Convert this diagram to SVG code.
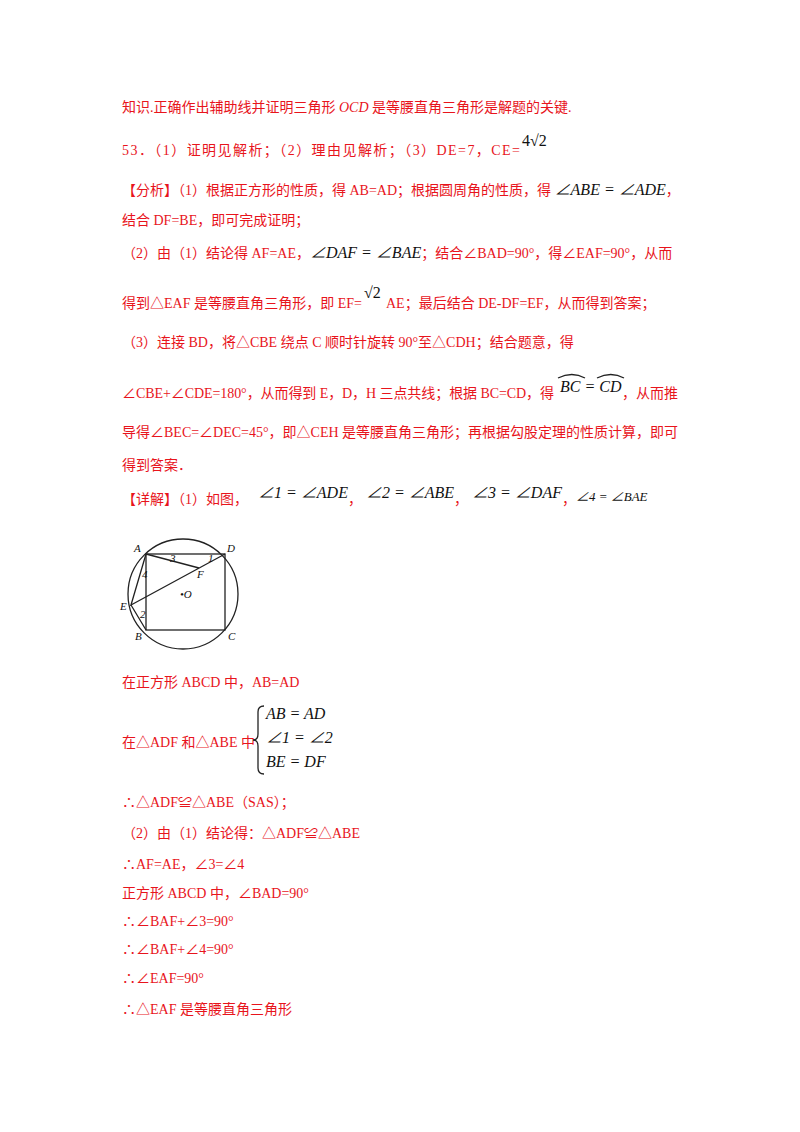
<svg xmlns="http://www.w3.org/2000/svg" width="800" height="1132" viewBox="0 0 800 1132">
<style>
text{font-family:"Liberation Serif","Noto Sans CJK SC",serif;font-size:14px;fill:#e8141c}
.m{fill:#111;font-style:italic;font-size:16px}
.n{fill:#111;font-size:16px}
.k{fill:#111;font-size:11px;font-style:italic}
.g{stroke:#222;stroke-width:1.3;fill:none}
</style>
<rect width="800" height="1132" fill="#fff"/>
<text x="122" y="112">知识.正确作出辅助线并证明三角形 <tspan font-style="italic">OCD</tspan> 是等腰直角三角形是解题的关键.</text>
<text x="122" y="155" textLength="398" lengthAdjust="spacing">53．（1）证明见解析；（2）理由见解析；（3）DE=7，CE=</text>
<text x="522" y="146" class="n">4√2</text>
<text x="122" y="195">【分析】（1）根据正方形的性质，得 AB=AD；根据圆周角的性质，得 <tspan class="m">∠ABE = ∠ADE</tspan>，</text>
<text x="122" y="225">结合 DF=BE，即可完成证明；</text>
<text x="122" y="258">（2）由（1）结论得 AF=AE，<tspan class="m">∠DAF = ∠BAE</tspan>；结合∠BAD=90°，得∠EAF=90°，从而</text>
<text x="122" y="308" textLength="240" lengthAdjust="spacing">得到△EAF 是等腰直角三角形，即 EF=</text>
<text x="364" y="298" class="n">√2</text>
<text x="386" y="308">AE；最后结合 DE-DF=EF，从而得到答案；</text>
<text x="122" y="347">（3）连接 BD，将△CBE 绕点 C 顺时针旋转 90°至△CDH；结合题意，得</text>
<text x="122" y="398" textLength="432" lengthAdjust="spacing">∠CBE+∠CDE=180°，从而得到 E，D，H 三点共线；根据 BC=CD，得</text>
<text x="560" y="392" class="m">BC = CD</text>
<text x="622" y="398">，从而推</text>
<path d="M558 378 Q572 371 585 378 M597 378 Q611 371 624 378" class="g" stroke-width="1"/>
<text x="122" y="437">导得∠BEC=∠DEC=45°，即△CEH 是等腰直角三角形；再根据勾股定理的性质计算，即可</text>
<text x="122" y="470">得到答案．</text>
<text x="122" y="504">【详解】（1）如图，<tspan class="m" dx="10" dy="-6">∠1 = ∠ADE</tspan><tspan dy="6">，</tspan><tspan class="m" dx="4" dy="-6">∠2 = ∠ABE</tspan><tspan dy="6">，</tspan><tspan class="m" dx="4" dy="-6">∠3 = ∠DAF</tspan><tspan dy="6">，</tspan><tspan class="m" style="font-size:13px" dy="-3">∠4 = ∠BAE</tspan></text>
<g id="figure">
<circle cx="183" cy="594" r="55" class="g"/>
<rect x="146" y="554" width="79" height="76" class="g"/>
<path d="M146 554 L199 568 M225 554 L131 605 L146 554 M131 605 L146 630" class="g"/>
<text class="k" x="134" y="552">A</text>
<text class="k" x="227" y="552">D</text>
<text class="k" x="120" y="610">E</text>
<text class="k" x="135" y="640">B</text>
<text class="k" x="228" y="640">C</text>
<text class="k" x="197" y="578">F</text>
<text class="k" x="180" y="598">•O</text>
<text class="k" x="142" y="578" font-size="8">4</text>
<text class="k" x="140" y="618" font-size="8">2</text>
<text class="k" x="170" y="562" font-size="8">3</text>
<text class="k" x="208" y="562" font-size="8">1</text>
</g>
<text x="122" y="687">在正方形 ABCD 中，AB=AD</text>
<text x="122" y="747">在△ADF 和△ABE 中</text>
<path d="M264 706 Q258 706 258 712 L258 734 Q258 740 253 740 Q258 740 258 746 L258 768 Q258 774 264 774" class="g" stroke-width="1.2"/>
<text x="266" y="719" class="m">AB = AD</text>
<text x="266" y="743" class="m">∠1 = ∠2</text>
<text x="266" y="767" class="m">BE = DF</text>
<text x="122" y="807">∴△ADF≌△ABE（SAS）；</text>
<text x="122" y="838">（2）由（1）结论得：△ADF≌△ABE</text>
<text x="122" y="869">∴AF=AE，∠3=∠4</text>
<text x="122" y="898">正方形 ABCD 中，∠BAD=90°</text>
<text x="122" y="926">∴∠BAF+∠3=90°</text>
<text x="122" y="954">∴∠BAF+∠4=90°</text>
<text x="122" y="983">∴∠EAF=90°</text>
<text x="122" y="1014">∴△EAF 是等腰直角三角形</text>
</svg>
